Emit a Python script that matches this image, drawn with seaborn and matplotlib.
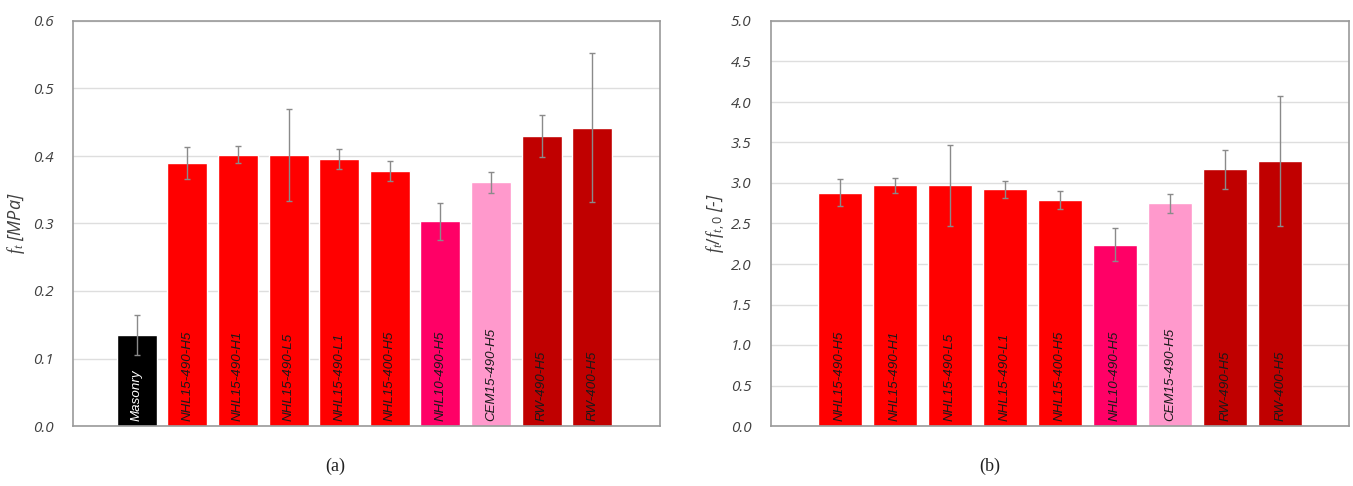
import matplotlib
matplotlib.use("Agg")
import matplotlib.pyplot as plt
import seaborn as sns
import pandas as pd

# ---- data ----
cats_a = ["Masonry", "NHL15-490-H5", "NHL15-490-H1", "NHL15-490-L5", "NHL15-490-L1",
          "NHL15-400-H5", "NHL10-490-H5", "CEM15-490-H5", "RW-490-H5", "RW-400-H5"]
vals_a = [0.135, 0.390, 0.402, 0.402, 0.395, 0.378, 0.303, 0.361, 0.430, 0.442]
errs_a = [0.030, 0.024, 0.013, 0.068, 0.015, 0.015, 0.027, 0.016, 0.031, 0.110]

cats_b = ["NHL15-490-H5", "NHL15-490-H1", "NHL15-490-L5", "NHL15-490-L1",
          "NHL15-400-H5", "NHL10-490-H5", "CEM15-490-H5", "RW-490-H5", "RW-400-H5"]
vals_b = [2.88, 2.97, 2.97, 2.92, 2.79, 2.24, 2.75, 3.17, 3.27]
errs_b = [0.17, 0.09, 0.50, 0.11, 0.11, 0.20, 0.12, 0.24, 0.80]

colors = {"Masonry": "#000000", "NHL15-490-H5": "#FF0000", "NHL15-490-H1": "#FF0000",
          "NHL15-490-L5": "#FF0000", "NHL15-490-L1": "#FF0000", "NHL15-400-H5": "#FF0000",
          "NHL10-490-H5": "#FF0066", "CEM15-490-H5": "#FF99CC", "RW-490-H5": "#C00000",
          "RW-400-H5": "#C00000"}

yticks_a = [0.0, 0.1, 0.2, 0.3, 0.4, 0.5, 0.6]
yticks_b = [0.0, 0.5, 1.0, 1.5, 2.0, 2.5, 3.0, 3.5, 4.0, 4.5, 5.0]

sns.set_theme(style="white")
plt.rcParams["font.family"] = ["Open Sans", "DejaVu Sans"]
plt.rcParams["mathtext.fontset"] = "custom"
plt.rcParams["mathtext.it"] = "Liberation Serif:italic"
plt.rcParams["mathtext.rm"] = "Open Sans"

fig = plt.figure(figsize=(13.53, 4.86), dpi=100)
W, H = 1353, 486
ax_a = fig.add_axes([73 / W, 1 - 426 / H, (660 - 73) / W, (426 - 21) / H])
ax_b = fig.add_axes([771 / W, 1 - 426 / H, (1349 - 771) / W, (426 - 21) / H])


def draw(ax, cats, vals, errs, yticks, xlim, width, ylabel, lpad):
    df = pd.DataFrame({"cat": cats, "val": vals})
    sns.barplot(data=df, x="cat", y="val", hue="cat", palette=colors, order=cats,
                width=width, saturation=1, legend=False, ax=ax, zorder=2)
    ax.errorbar(range(len(cats)), vals, yerr=errs, fmt="none", ecolor="#8a8a8a",
                elinewidth=1.0, capsize=2, capthick=1.0, zorder=3)
    ax.set_xlim(*xlim)
    ax.set_ylim(yticks[0], yticks[-1])
    ax.set_yticks(yticks)
    ax.set_yticklabels([f"{t:.1f}" for t in yticks], fontstyle="italic",
                       fontsize=11, color="#404040")
    ax.set_xticks([])
    ax.set_xlabel("")
    ax.set_ylabel(ylabel, fontsize=13, color="#404040", fontstyle="italic", labelpad=lpad)
    ax.yaxis.grid(True, color="#dedede", lw=1, zorder=0)
    ax.set_axisbelow(True)
    ax.tick_params(axis="y", length=0, pad=14)
    for s in ax.spines.values():
        s.set_color("#9a9a9a")
        s.set_linewidth(1.2)
    ymax = yticks[-1]
    for i, c in enumerate(cats):
        tc = "white" if c == "Masonry" else "#1a1a1a"
        ax.text(i, ymax * 0.012, c, rotation=90, ha="center", va="bottom",
                fontsize=9.6, fontstyle="italic", color=tc,
                family=["Liberation Sans", "DejaVu Sans"], zorder=4)


draw(ax_a, cats_a, vals_a, errs_a, yticks_a, (-1.26, 10.34), 0.79,
     r"$f_t$ [MPa]", 4)
draw(ax_b, cats_b, vals_b, errs_b, yticks_b, (-1.25, 9.25), 0.80,
     r"$f_t/f_{t,0}$ [-]", 2)

fig.text(335 / W, 1 - 466 / H, "(a)", ha="center", va="center", fontsize=13,
         family=["Liberation Serif", "DejaVu Serif"], color="#222222")
fig.text(990 / W, 1 - 466 / H, "(b)", ha="center", va="center", fontsize=13,
         family=["Liberation Serif", "DejaVu Serif"], color="#222222")

fig.savefig("out.png", dpi=100)
